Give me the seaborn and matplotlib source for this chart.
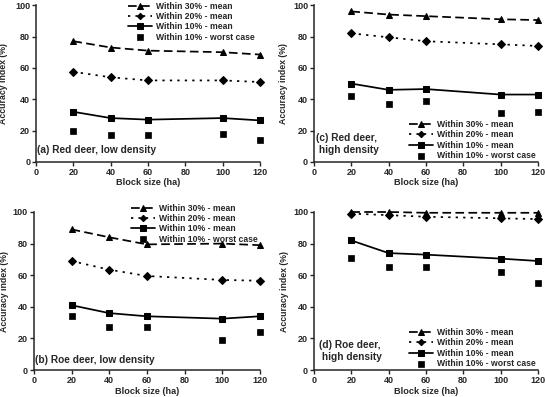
import matplotlib
matplotlib.use("Agg")
import matplotlib.pyplot as plt
import seaborn as sns

sns.set_style("ticks")
plt.rcParams['font.family'] = ['Liberation Sans', 'DejaVu Sans']
plt.rcParams['font.weight'] = 'bold'

block_size = [20, 40, 60, 100, 120]

# (a) Red deer, low density
a_30 = [77, 73, 71, 70, 68.5]
a_20 = [57.5, 54, 52, 52, 51]
a_10 = [32, 28, 27, 28, 26.5]
a_w = [20, 17, 17, 18, 14]
# (c) Red deer, high density
c_30 = [96, 94, 93, 91, 90.5]
c_20 = [82, 79.5, 77, 75, 74]
c_10 = [50, 46, 46.5, 43, 43]
c_w = [42, 37, 39, 31, 32]
# (b) Roe deer, low density
b_30 = [89, 84, 79.5, 80, 79]
b_20 = [69, 63.5, 59.5, 57, 56.5]
b_10 = [41, 36, 34, 32.5, 34]
b_w = [34, 27, 27, 19, 24]
# (d) Roe deer, high density
d_30 = [100, 100, 99.5, 99.5, 99.5]
d_20 = [99, 98, 97, 96, 95.5]
d_10 = [82, 74, 73, 70.5, 69]
d_w = [71, 65, 65, 62, 55]

series_labels = ["Within 30% - mean", "Within 20% - mean",
                 "Within 10% - mean", "Within 10% - worst case"]
x_ticks = [0, 20, 40, 60, 80, 100, 120]
y_ticks = [0, 20, 40, 60, 80, 100]

# title, data, axes rect, legend loc, legend anchor, label pos (x, y), ylabel x, xlabel y
panels = [
    ("(a) Red deer, low density", a_30, a_20, a_10, a_w,
     [0.066, 0.592, 0.410, 0.395], "upper right", (0.985, 1.035), (0.6, 7.6),
     -0.125, -0.105),
    ("(c) Red deer,\n high density", c_30, c_20, c_10, c_w,
     [0.575, 0.592, 0.410, 0.395], "lower right", (1.0, 0.0), (1.2, 11.5),
     -0.118, -0.105),
    ("(b) Roe deer, low density", b_30, b_20, b_10, b_w,
     [0.062, 0.068, 0.414, 0.398], "upper right", (1.0, 1.065), (0.6, 6.6),
     -0.11, -0.11),
    ("(d) Roe deer,\n high density", d_30, d_20, d_10, d_w,
     [0.575, 0.068, 0.410, 0.398], "lower right", (1.0, 0.0), (2.5, 12.0),
     -0.112, -0.11),
]

fig = plt.figure(figsize=(5.46, 3.97), dpi=100)

for (title, s30, s20, s10, sw, rect, loc, anchor, tpos,
     ylab_x, xlab_y) in panels:
    ax = fig.add_axes(rect)
    sns.lineplot(x=block_size, y=s30, ax=ax, color="black", lw=1.25,
                 linestyle=(0, (5, 2.5)),
                 marker="^", markersize=5, markeredgecolor="black",
                 label=series_labels[0], clip_on=False)
    sns.lineplot(x=block_size, y=s20, ax=ax, color="black", lw=1.25,
                 linestyle=(0, (1.3, 3)),
                 marker="D", markersize=3.6, markeredgecolor="black",
                 label=series_labels[1], clip_on=False)
    sns.lineplot(x=block_size, y=s10, ax=ax, color="black", lw=1.25,
                 linestyle="-",
                 marker="s", markersize=4.6, markeredgecolor="black",
                 label=series_labels[2], clip_on=False)
    sns.scatterplot(x=block_size, y=sw, ax=ax, color="black", marker="s",
                    s=22, edgecolor="black", linewidth=0.5,
                    label=series_labels[3], clip_on=False, zorder=3)
    ax.set_xlim(0, 120)
    ax.set_ylim(0, 100)
    ax.set_xticks(x_ticks)
    ax.set_yticks(y_ticks)
    ax.tick_params(labelsize=6.5, width=1, length=3, direction="out", pad=1.2)
    for lab in ax.get_xticklabels() + ax.get_yticklabels():
        lab.set_fontweight("bold")
    ax.set_xlabel("Block size (ha)", fontsize=6.6, fontweight="bold")
    ax.set_ylabel("Accuracy index (%)", fontsize=6.3, fontweight="bold")
    ax.yaxis.set_label_coords(ylab_x, 0.5)
    ax.xaxis.set_label_coords(0.5, xlab_y)
    sns.despine(ax=ax)
    for sp in ax.spines.values():
        sp.set_linewidth(1.1)
    ax.text(tpos[0], tpos[1], title, fontsize=7.3, fontweight="bold",
            va="center", ha="left", linespacing=1.35)
    handles, labels = ax.get_legend_handles_labels()
    leg = ax.legend(handles, labels, loc=loc, bbox_to_anchor=anchor,
                    frameon=False, fontsize=6.2, handlelength=2.8,
                    labelspacing=0.15, borderaxespad=0.1, handletextpad=0.45,
                    borderpad=0.15, markerscale=0.9)
    for t in leg.get_texts():
        t.set_fontweight("bold")

fig.savefig("out.png", dpi=100)
